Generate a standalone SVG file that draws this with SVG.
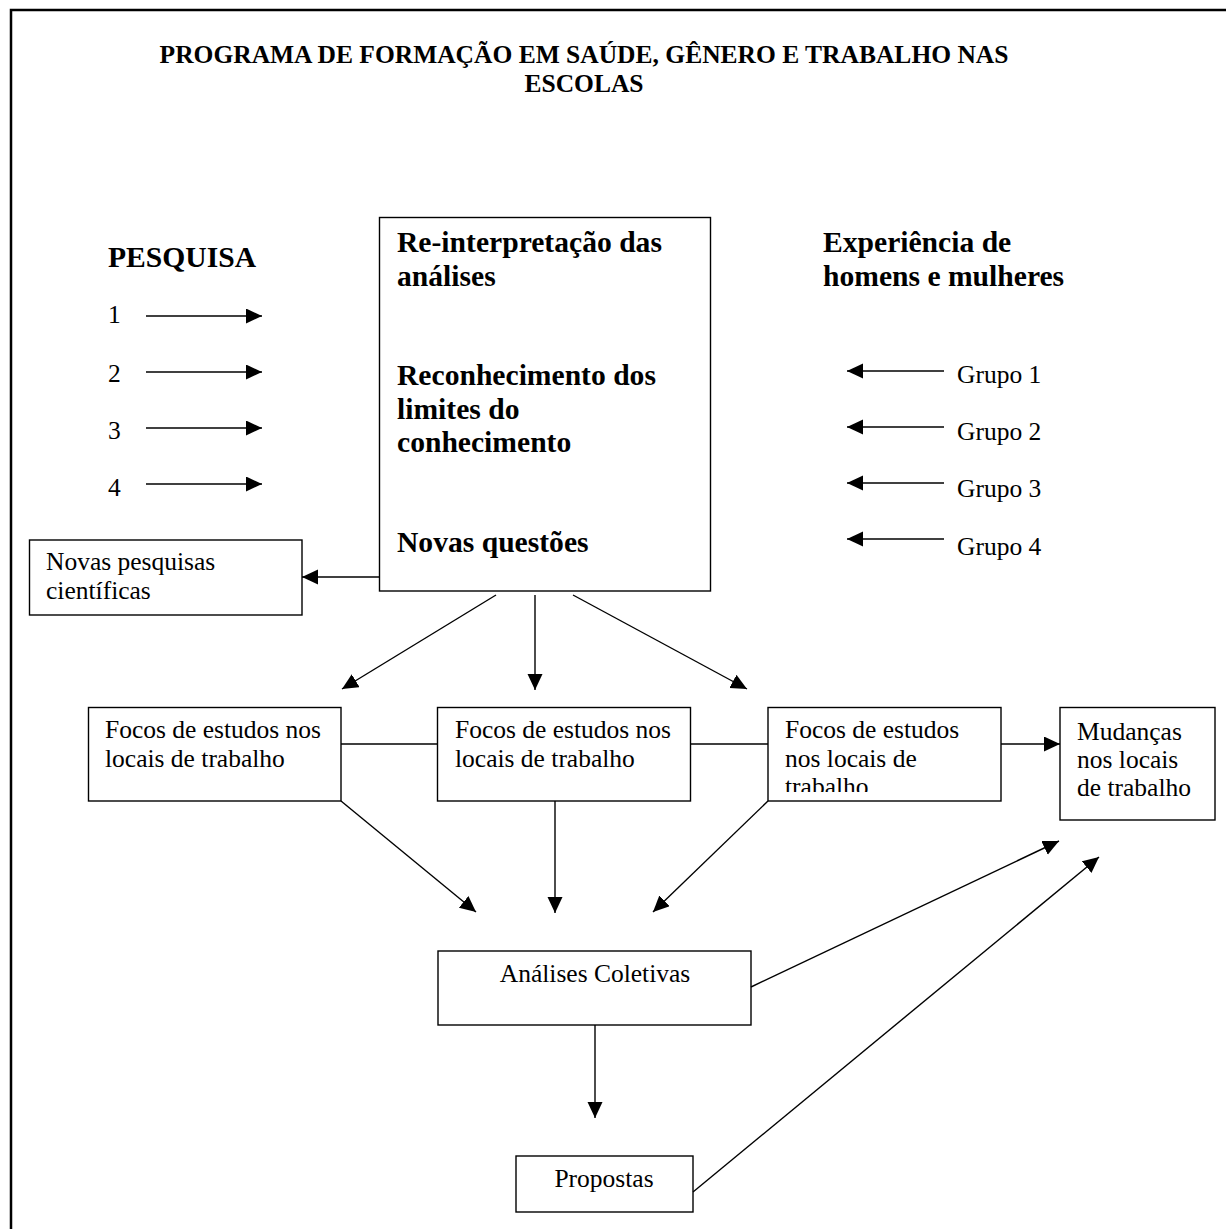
<svg xmlns="http://www.w3.org/2000/svg" width="1226" height="1229" viewBox="0 0 1226 1229">
<style>
text{font-family:"Liberation Serif","Times New Roman",serif;fill:#000}
.b{font-weight:bold;font-size:29.6px}
.r{font-size:25.5px}
.t{font-weight:bold;font-size:25.5px}
.box{fill:#fff;stroke:#000;stroke-width:1.4}
.c line{stroke:#000;stroke-width:1.4}
</style>
<defs>
<marker id="ah" markerUnits="userSpaceOnUse" markerWidth="17" markerHeight="16" refX="16" refY="7.5" orient="auto">
<path d="M0,0 L16,7.5 L0,15 z" fill="#000"/>
</marker>
<clipPath id="clip3"><rect x="768" y="707" width="233" height="85"/></clipPath>
</defs>
<rect width="1226" height="1229" fill="#fff"/>
<path d="M11,1240 L11,10 L1240,10" fill="none" stroke="#000" stroke-width="2.5"/>
<g id="title">
<text class="t" x="584" y="63" text-anchor="middle">PROGRAMA DE FORMAÇÃO EM SAÚDE, GÊNERO E TRABALHO NAS</text>
<text class="t" x="584" y="92" text-anchor="middle">ESCOLAS</text>
</g>
<g id="pesquisa">
<text class="b" x="108" y="267">PESQUISA</text>
<text class="r" x="108" y="323">1</text>
<text class="r" x="108" y="382">2</text>
<text class="r" x="108" y="439">3</text>
<text class="r" x="108" y="496">4</text>
</g>
<g id="experiencia">
<text class="b" x="823" y="252">Experiência de</text>
<text class="b" x="823" y="286">homens e mulheres</text>
<text class="r" x="957" y="383">Grupo 1</text>
<text class="r" x="957" y="440">Grupo 2</text>
<text class="r" x="957" y="497">Grupo 3</text>
<text class="r" x="957" y="555">Grupo 4</text>
</g>
<g id="main">
<rect class="box" x="379.5" y="217.5" width="331" height="373.5"/>
<text class="b" x="397" y="252">Re-interpretação das</text>
<text class="b" x="397" y="286">análises</text>
<text class="b" x="397" y="385">Reconhecimento dos</text>
<text class="b" x="397" y="419">limites do</text>
<text class="b" x="397" y="452">conhecimento</text>
<text class="b" x="397" y="552">Novas questões</text>
</g>
<g id="novas">
<rect class="box" x="29.5" y="540" width="272.5" height="75"/>
<text class="r" x="46" y="570">Novas pesquisas</text>
<text class="r" x="46" y="599">científicas</text>
</g>
<g id="focos1">
<rect class="box" x="88.5" y="707.5" width="252.5" height="93.5"/>
<text class="r" x="105" y="738">Focos de estudos nos</text>
<text class="r" x="105" y="767">locais de trabalho</text>
</g>
<g id="focos2">
<rect class="box" x="437.5" y="707.5" width="253" height="93.5"/>
<text class="r" x="455" y="738">Focos de estudos nos</text>
<text class="r" x="455" y="767">locais de trabalho</text>
</g>
<g id="focos3">
<rect class="box" x="768" y="707.5" width="233" height="93.5"/>
<g clip-path="url(#clip3)">
<text class="r" x="785" y="738">Focos de estudos</text>
<text class="r" x="785" y="767">nos locais de</text>
<text class="r" x="785" y="795">trabalho</text>
</g>
</g>
<g id="mudancas">
<rect class="box" x="1060" y="707.5" width="155" height="112.5"/>
<text class="r" x="1077" y="740">Mudanças</text>
<text class="r" x="1077" y="768">nos locais</text>
<text class="r" x="1077" y="796">de trabalho</text>
</g>
<g id="analises">
<rect class="box" x="438" y="951" width="313" height="74"/>
<text class="r" x="595" y="982" text-anchor="middle">Análises Coletivas</text>
</g>
<g id="propostas">
<rect class="box" x="516" y="1156" width="177" height="56"/>
<text class="r" x="604" y="1187" text-anchor="middle">Propostas</text>
</g>
<g id="connectors" class="c">
<line x1="146" y1="316" x2="262" y2="316" marker-end="url(#ah)"/>
<line x1="146" y1="372" x2="262" y2="372" marker-end="url(#ah)"/>
<line x1="146" y1="428" x2="262" y2="428" marker-end="url(#ah)"/>
<line x1="146" y1="484" x2="262" y2="484" marker-end="url(#ah)"/>
<line x1="944" y1="371" x2="847" y2="371" marker-end="url(#ah)"/>
<line x1="944" y1="427" x2="847" y2="427" marker-end="url(#ah)"/>
<line x1="944" y1="483" x2="847" y2="483" marker-end="url(#ah)"/>
<line x1="944" y1="539" x2="847" y2="539" marker-end="url(#ah)"/>
<line x1="379" y1="577" x2="302" y2="577" marker-end="url(#ah)"/>
<line x1="496" y1="595" x2="342" y2="689" marker-end="url(#ah)"/>
<line x1="535" y1="595" x2="535" y2="690" marker-end="url(#ah)"/>
<line x1="573" y1="595" x2="747" y2="689" marker-end="url(#ah)"/>
<line x1="341" y1="744" x2="437" y2="744"/>
<line x1="691" y1="744" x2="768" y2="744"/>
<line x1="1001" y1="744" x2="1060" y2="744" marker-end="url(#ah)"/>
<line x1="341" y1="801" x2="476" y2="912" marker-end="url(#ah)"/>
<line x1="555" y1="801" x2="555" y2="913" marker-end="url(#ah)"/>
<line x1="768" y1="801" x2="653" y2="912" marker-end="url(#ah)"/>
<line x1="595" y1="1025" x2="595" y2="1118" marker-end="url(#ah)"/>
<line x1="751" y1="987" x2="1059" y2="841" marker-end="url(#ah)"/>
<line x1="693" y1="1192" x2="1099" y2="857" marker-end="url(#ah)"/>
</g>
</svg>
